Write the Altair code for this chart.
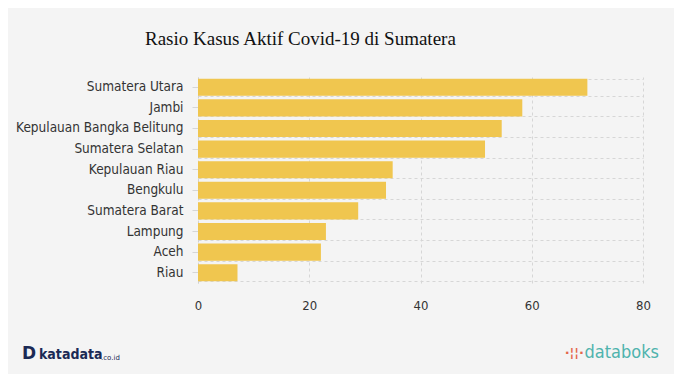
import altair as alt
import pandas as pd

provinces = ["Sumatera Utara", "Jambi", "Kepulauan Bangka Belitung", "Sumatera Selatan",
             "Kepulauan Riau", "Bengkulu", "Sumatera Barat", "Lampung", "Aceh", "Riau"]
values = [70.0, 58.3, 54.6, 51.6, 35.0, 33.8, 28.8, 23.0, 22.1, 7.1]
x_ticks = [0, 20, 40, 60, 80]

df = pd.DataFrame({"prov": provinces, "val": values})

FONT = "DejaVu Sans Condensed"
GRID = "#d6d6d6"

yscale = alt.Scale(domain=provinces, paddingInner=0.17, paddingOuter=0.08)
xscale = alt.Scale(domain=[0, 80], nice=False)
xaxis = alt.Axis(title=None, values=x_ticks, grid=True, gridDash=[3, 3],
                 gridColor=GRID, ticks=False, domain=False, labelPadding=16,
                 labelFlush=False,
                 labelFont=FONT, labelFontSize=13, labelColor="#333333")

bars = alt.Chart(df).mark_bar(color="#f0c64f").encode(
    x=alt.X("val:Q", scale=xscale, axis=xaxis),
    y=alt.Y("prov:N", scale=yscale, sort=provinces,
            axis=alt.Axis(title=None, orient="left", grid=False, ticks=True, tickSize=6,
                          tickColor=GRID, domain=True, domainColor="#d0d0d0",
                          domainDash=[3, 3],
                          labelPadding=9, labelFont=FONT, labelFontSize=13.5,
                          labelColor="#333333")),
)

gridlayer = alt.Chart(df).mark_bar(opacity=0).encode(
    x=alt.X("val:Q", scale=xscale, axis=xaxis),
    y=alt.Y("prov:N", scale=yscale, sort=provinces,
            axis=alt.Axis(title=None, orient="left", grid=True, tickBand="extent",
                          gridDash=[3, 3], gridColor=GRID, ticks=False, labels=False,
                          domain=False)),
)

logo_df = pd.DataFrame({"k": [0]})
kata_d = alt.Chart(logo_df).mark_text(text="D", font="DejaVu Sans", fontWeight="bold",
                                     fontSize=17, color="#1b2a55", align="left",
                                     baseline="middle").encode(
    x=alt.value(-176), y=alt.value(277))
kata = alt.Chart(logo_df).mark_text(text="katadata", font="DejaVu Sans Condensed",
                                   fontWeight="bold", fontSize=14, color="#1b2a55",
                                   align="left", baseline="middle").encode(
    x=alt.value(-159), y=alt.value(278))
kata2 = alt.Chart(logo_df).mark_text(text=".co.id", font="DejaVu Sans", fontSize=7,
                                    color="#1b2a55", align="left",
                                    baseline="middle").encode(
    x=alt.value(-97), y=alt.value(281))
dbk_icon = alt.Chart(logo_df).mark_text(text="\u00b7\u00a6\u00a6\u00b7", font="DejaVu Sans",
                                       fontWeight="bold", fontSize=13, color="#e4674a",
                                       align="right", baseline="middle").encode(
    x=alt.value(386), y=alt.value(276))
dbk = alt.Chart(logo_df).mark_text(text="databoks", font="DejaVu Sans Condensed",
                                  fontSize=18, color="#4fb3ad", align="right",
                                  baseline="middle").encode(
    x=alt.value(461), y=alt.value(276))

chart = alt.layer(bars, gridlayer, kata_d, kata, kata2, dbk_icon, dbk).resolve_axis(
    y="independent"
).properties(
    width=445, height=206,
    autosize=alt.AutoSizeParams(type="none"),
    padding={"left": 190, "top": 69, "right": 31, "bottom": 91},
    background="#f4f4f4",
    title=alt.TitleParams("Rasio Kasus Aktif Covid-19 di Sumatera", anchor="start",
                          frame="group", dx=-53, offset=28, font="Liberation Serif",
                          fontSize=19, fontWeight="normal", color="#111111"),
).configure_view(stroke=None)

chart.save("out.html", embed_options={"renderer": "svg", "actions": False})
